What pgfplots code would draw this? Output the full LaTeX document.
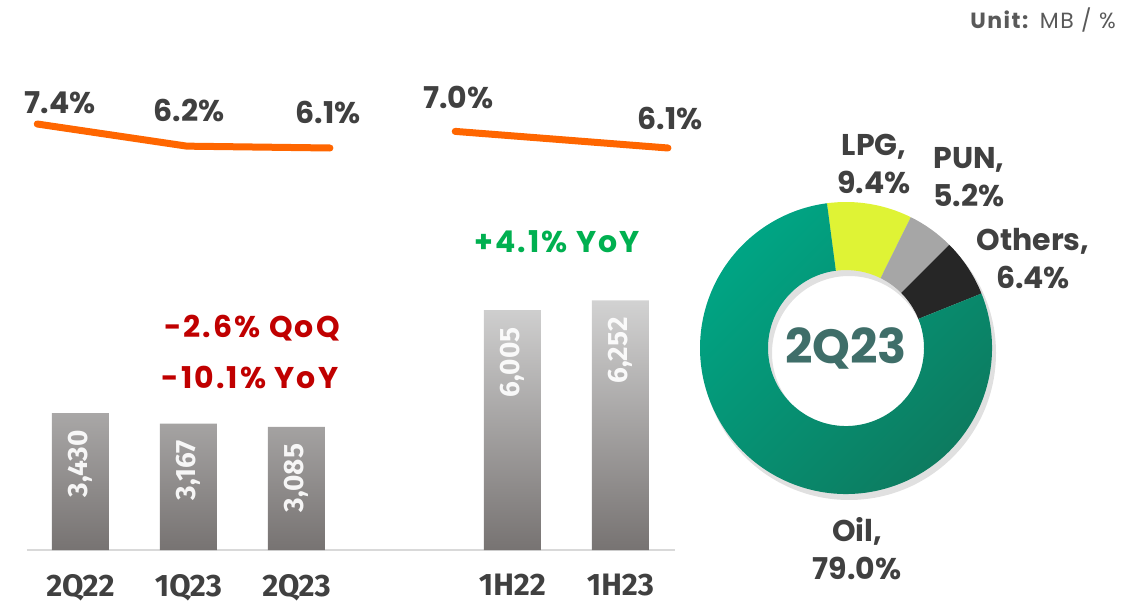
\documentclass[border=0pt]{standalone}
\usepackage{fontspec}
\setmainfont{Poppins}
\newfontfamily\fira{Fira Sans}
\newfontfamily\popls{Poppins}[LetterSpace=7]
\usepackage{pgfplots}
\pgfplotsset{compat=1.18}
\definecolor{barTop}{HTML}{D2D2D2}
\definecolor{barBot}{HTML}{777372}
\definecolor{lineOr}{HTML}{FF6600}
\definecolor{txt}{HTML}{404040}
\definecolor{redt}{HTML}{C00000}
\definecolor{grn}{HTML}{00B050}
\definecolor{oilA}{HTML}{00A584}
\definecolor{oilB}{HTML}{0E785D}
\definecolor{lpg}{HTML}{DFF335}
\definecolor{pun}{HTML}{A6A6A6}
\definecolor{oth}{HTML}{262626}
\definecolor{ctr}{HTML}{3F6E69}
\definecolor{unit}{HTML}{595959}
\begin{document}
\begin{tikzpicture}[x=1pt,y=1pt]
\useasboundingbox (0,0) rectangle (1122,603);
% ---------------- bars ----------------
\begin{axis}[at={(27pt,53pt)}, anchor=south west, scale only axis,
  width=648pt, height=279.6pt,
  xmin=-0.495, xmax=5.505, ymin=0, ymax=7000,
  axis y line=none, axis x line*=bottom,
  x axis line style={draw=black!15, line width=2pt, -},
  xtick={0,1,2,4,5}, xticklabels={2Q22,1Q23,2Q23,1H22,1H23},
  major tick length=0pt,
  xticklabel style={font=\fira\bfseries\fontsize{31}{31}\selectfont, text=txt, anchor=north, inner sep=0pt, yshift=-24pt},
  clip=false]
 \addplot[ybar, bar width=57pt, draw=none, top color=barTop, bottom color=barBot,
   nodes near coords, point meta=explicit symbolic,
   every node near coord/.append style={font=\fira\bfseries\fontsize{28}{28}\selectfont, text=white, text opacity=0.92, inner sep=0pt, yshift=-17pt, rotate=90, anchor=east}]
   coordinates {(0,3430) [3,430] (1,3167) [3,167] (2,3085) [3,085] (4,6005) [6,005] (5,6252) [6,252]};
\end{axis}
% ---------------- line ----------------
\begin{axis}[at={(27pt,443pt)}, anchor=south west, scale only axis,
  width=648pt, height=50pt,
  xmin=-0.495, xmax=5.505, ymin=5.45, ymax=8.159,
  hide axis, clip=false]
 \addplot[lineOr, line width=7pt, line cap=round, line join=round] coordinates {(-0.40,7.4) (0.986,6.2) (2.31,6.1)};
 \addplot[lineOr, line width=7pt, line cap=round, line join=round] coordinates {(3.47,7.0) (5.44,6.1)};
 \tikzset{lab/.style={font=\bfseries\fontsize{30}{30}\selectfont, text=txt, inner sep=0pt}}
 \node[lab, xshift=23pt, yshift=21pt] at (axis cs:-0.40,7.4) {7.4\%};
 \node[lab, xshift=2pt, yshift=36pt] at (axis cs:0.986,6.2) {6.2\%};
 \node[lab, xshift=-2pt, yshift=36pt] at (axis cs:2.31,6.1) {6.1\%};
 \node[lab, xshift=3pt, yshift=34pt] at (axis cs:3.47,7.0) {7.0\%};
 \node[lab, xshift=2pt, yshift=30pt] at (axis cs:5.44,6.1) {6.1\%};
\end{axis}
% ---------------- donut ----------------
\def\vLPG{9.4}\def\vPUN{5.2}\def\vOTH{6.4}\def\vOIL{79.0}
\pgfmathsetmacro\aA{97.5}
\pgfmathsetmacro\aB{\aA-3.6*\vLPG}
\pgfmathsetmacro\aC{\aB-3.6*\vPUN}
\pgfmathsetmacro\aD{\aC-3.6*\vOTH}
\pgfmathsetmacro\aE{\aD-3.6*\vOIL}
\def\ri{0.534}
\begin{axis}[at={(846pt,255pt)}, anchor=center, scale only axis,
  width=292pt, height=292pt, xmin=-1, xmax=1, ymin=-1, ymax=1,
  hide axis, clip=false]
 \fill[black, opacity=0.12, even odd rule, xshift=3pt, yshift=-5pt] (axis cs:0,0) circle[radius=147pt] (axis cs:0,0) circle[radius=77pt];
 \fill[lpg] (axis cs:{cos(\aA)},{sin(\aA)}) arc[start angle=\aA, end angle=\aB, radius=146pt]
   -- (axis cs:{\ri*cos(\aB)},{\ri*sin(\aB)}) arc[start angle=\aB, end angle=\aA, radius=78pt] -- cycle;
 \fill[pun] (axis cs:{cos(\aB)},{sin(\aB)}) arc[start angle=\aB, end angle=\aC, radius=146pt]
   -- (axis cs:{\ri*cos(\aC)},{\ri*sin(\aC)}) arc[start angle=\aC, end angle=\aB, radius=78pt] -- cycle;
 \fill[oth] (axis cs:{cos(\aC)},{sin(\aC)}) arc[start angle=\aC, end angle=\aD, radius=146pt]
   -- (axis cs:{\ri*cos(\aD)},{\ri*sin(\aD)}) arc[start angle=\aD, end angle=\aC, radius=78pt] -- cycle;
 \shade[top color=oilA, bottom color=oilB, shading angle=45] (axis cs:{cos(\aD)},{sin(\aD)}) arc[start angle=\aD, end angle=\aE, radius=146pt]
   -- (axis cs:{\ri*cos(\aE)},{\ri*sin(\aE)}) arc[start angle=\aE, end angle=\aD, radius=78pt] -- cycle;
 \node[font=\bfseries\fontsize{48}{48}\selectfont, text=ctr] at (axis cs:0,0) {2Q23};
\end{axis}
% ---------------- texts ----------------
\tikzset{dl/.style={font=\bfseries\fontsize{30}{38}\selectfont, text=txt, align=center, inner sep=0pt}}
\node[dl] at (874,439) {LPG,\\9.4\%};
\node[dl] at (969,426) {PUN,\\5.2\%};
\node[dl] at (1033,344) {Others,\\6.4\%};
\node[dl] at (857,54) {Oil,\\79.0\%};
\tikzset{ann/.style={font=\popls\bfseries\fontsize{30}{30}\selectfont, inner sep=0pt}}
\node[ann, text=redt] at (252,275) {-2.6\% QoQ};
\node[ann, text=redt] at (250,226) {-10.1\% YoY};
\node[ann, text=grn] at (557,361) {+4.1\% YoY};
\node[anchor=east, inner sep=0pt, text=unit, font=\popls\fontsize{22}{22}\selectfont] at (1116,583) {\textbf{Unit:} MB / \%};
\end{tikzpicture}
\end{document}
